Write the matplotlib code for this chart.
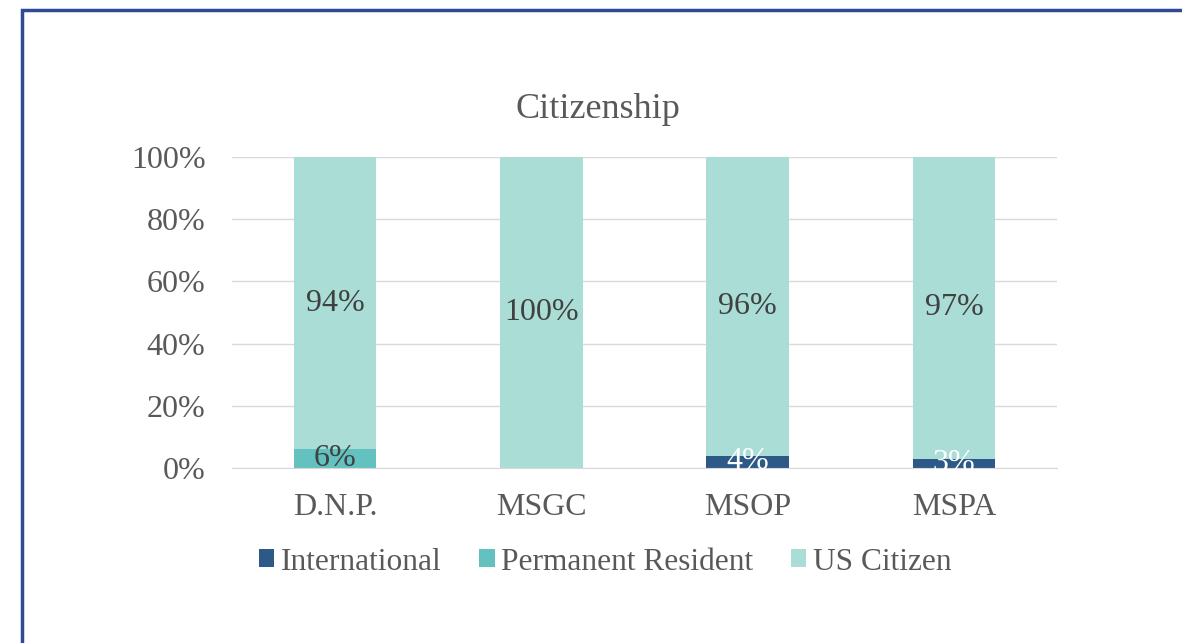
import numpy as np
import matplotlib.pyplot as plt
from matplotlib.patches import Rectangle
from matplotlib.ticker import PercentFormatter

plt.rcParams['font.family'] = ['Liberation Serif', 'DejaVu Serif']

# Data
programs = ['D.N.P.', 'MSGC', 'MSOP', 'MSPA']
international = [0, 0, 4, 3]
permanent_resident = [6, 0, 0, 0]
us_citizen = [94, 100, 96, 97]

fig = plt.figure(figsize=(11.82, 6.43), dpi=100)
ax = fig.add_axes([232/1182, 1 - 468/643, (1057-232)/1182, (468-157)/643])

# Outer frame
fig.patches.append(Rectangle((22/1182, -0.05), 1.1, 1 - 10/643 + 0.05, transform=fig.transFigure,
                             fill=False, edgecolor='#2F4A94', linewidth=2.5))

x = np.arange(len(programs))
w = 0.40
series = [
    ('International', international, '#2C5987', 'white'),
    ('Permanent Resident', permanent_resident, '#63C1C0', '#404040'),
    ('US Citizen', us_citizen, '#A9DDD5', '#404040'),
]
bottom = np.zeros(len(programs))
for name, vals, color, tcolor in series:
    vals = np.array(vals, dtype=float)
    ax.bar(x, vals, w, bottom=bottom, color=color, label=name, zorder=2)
    for xi, b, v in zip(x, bottom, vals):
        if v > 0:
            ax.text(xi, b + v / 2, f'{v:.0f}%', ha='center', va='center',
                    fontsize=23, color=tcolor, zorder=3)
    bottom += vals

ax.set_ylim(0, 100)
ax.set_xlim(-0.5, len(programs) - 0.5)
ax.set_xticks(x)
ax.set_xticklabels(programs)
ax.set_yticks(np.arange(0, 101, 20))
ax.yaxis.set_major_formatter(PercentFormatter(decimals=0))
ax.grid(axis='y', color='#D9D9D9', linewidth=1, zorder=0)
for s in ['top', 'right', 'left']:
    ax.spines[s].set_visible(False)
ax.spines['bottom'].set_color('#D9D9D9')
ax.tick_params(axis='both', length=0, labelsize=23, colors='#595959')
ax.tick_params(axis='x', pad=18)
ax.tick_params(axis='y', pad=19)

ax.set_title('Citizenship', fontsize=26, color='#595959', pad=28, x=0.444)

ax.legend(loc='upper center', bbox_to_anchor=(0.452, -0.165), ncol=3, frameon=False,
          fontsize=22.6, labelcolor='#595959', handlelength=0.5, handleheight=0.5,
          handletextpad=0.2, columnspacing=1.2)

fig.savefig('out.png', dpi=100)
